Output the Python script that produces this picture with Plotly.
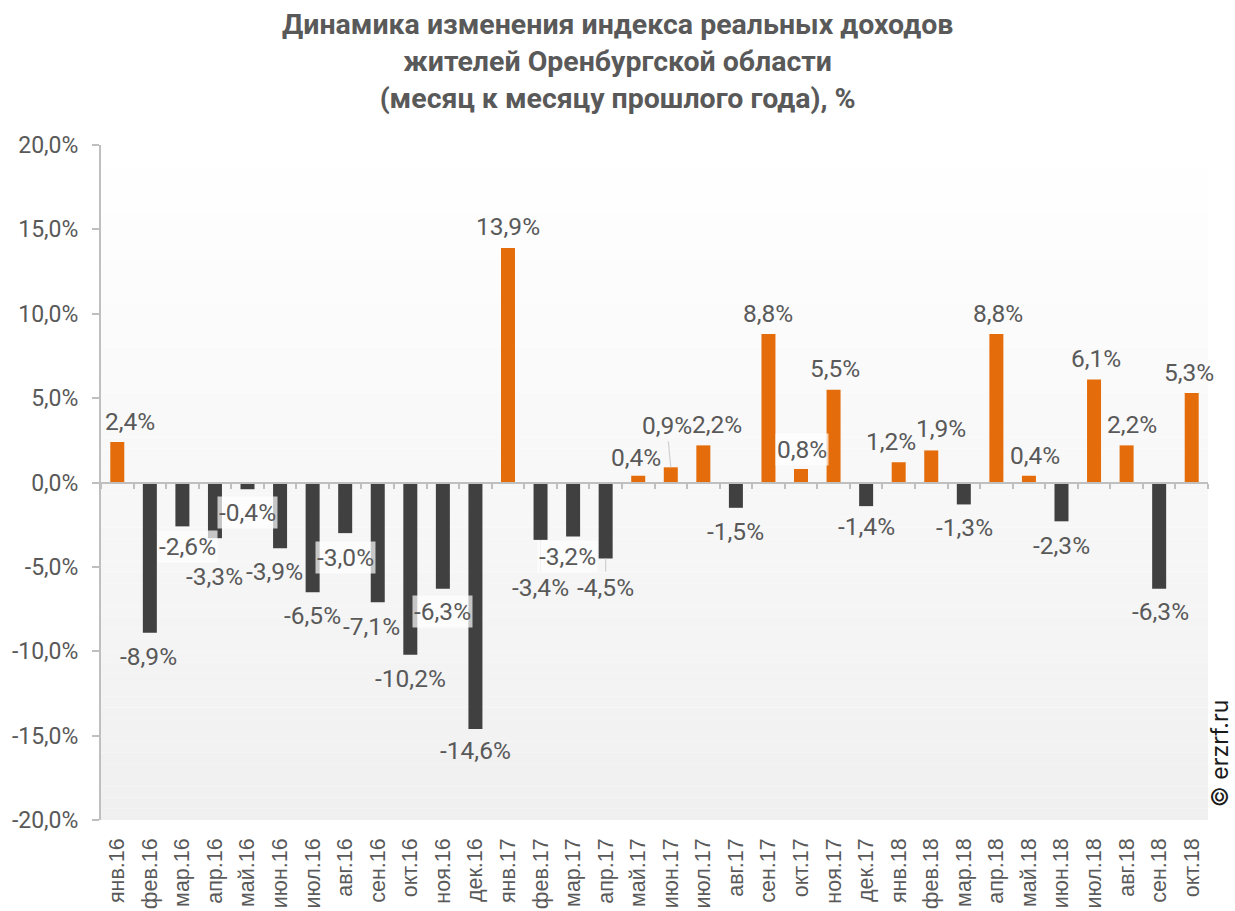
import plotly.graph_objects as go

# Months and year-on-year change of real incomes, %
months = ["янв.", "фев.", "мар.", "апр.", "май.", "июн.",
          "июл.", "авг.", "сен.", "окт.", "ноя.", "дек."]
categories = ([m + "16" for m in months] + [m + "17" for m in months]
              + [m + "18" for m in months[:10]])
values = [2.4, -8.9, -2.6, -3.3, -0.4, -3.9, -6.5, -3.0, -7.1, -10.2, -6.3, -14.6,
          13.9, -3.4, -3.2, -4.5, 0.4, 0.9, 2.2, -1.5, 8.8, 0.8, 5.5, -1.4,
          1.2, 1.9, -1.3, 8.8, 0.4, -2.3, 6.1, 2.2, -6.3, 5.3]
y_ticks = [-20, -15, -10, -5, 0, 5, 10, 15, 20]


def pct(v):
    return f"{v:.1f}".replace(".", ",") + "%"


# Label placement (pixel offsets from the bar end; dy positive = downward)
label_offsets = [(13, -21), (-1, 24), (5, 20), (0, 38), (0, 23), (-6, 23), (0, 23),
                 (0, 24), (-6, 24), (0, 24), (0, 23), (0, 22), (0, -21), (0, 48),
                 (-6, 20), (0, 29), (-2, -18), (-4, -42), (14, -21), (0, 24),
                 (0, -21), (1, -20), (1, -21), (0, 20), (-8, -21), (10, -22),
                 (1, 23), (2, -21), (6, -20), (0, 24), (2, -21), (5, -21), (1, 23),
                 (-3, -21)]
boxed_labels = {2, 4, 7, 10, 14, 21}
leader_labels = {13, 15, 17}

ORANGE = "#E46C0A"
DARK = "#404040"
TEXT = "#595959"
AXIS = "#BFBFBF"

colors = [ORANGE if v >= 0 else DARK for v in values]

fig = go.Figure()
fig.add_trace(go.Bar(
    x=categories, y=values, width=0.43,
    marker=dict(color=colors, line=dict(width=0)),
    hoverinfo="skip", showlegend=False,
))
# helper trace that carries the zero-line axis with boundary ticks
fig.add_trace(go.Scatter(
    x=list(range(len(values))), y=values, xaxis="x2", mode="markers",
    marker=dict(opacity=0), hoverinfo="skip", showlegend=False,
))

# vertical gradient of the plotting area
n_strips = 60
top_rgb, bottom_rgb = (255, 255, 255), (240, 240, 240)
shapes = []
for k in range(n_strips):
    t = (k + 0.5) / n_strips
    c = [round(bottom_rgb[j] + (top_rgb[j] - bottom_rgb[j]) * t) for j in range(3)]
    shapes.append(dict(type="rect", xref="paper", yref="paper",
                       x0=0, x1=1, y0=k / n_strips, y1=(k + 1) / n_strips,
                       fillcolor=f"rgb({c[0]},{c[1]},{c[2]})",
                       line=dict(width=0), layer="below"))

annotations = []
for i, (cat, v) in enumerate(zip(categories, values)):
    dx, dy = label_offsets[i]
    base = dict(x=cat, y=v, xref="x", yref="y", text=pct(v),
                font=dict(family="Roboto", size=24.5, color=TEXT))
    if i in leader_labels:
        base.update(showarrow=True, arrowhead=0, arrowwidth=1.2,
                    arrowcolor="#D0D0D0", ax=dx, ay=dy, standoff=0)
    else:
        base.update(showarrow=False, xanchor="center", yanchor="middle",
                    xshift=dx, yshift=-dy)
    if i in boxed_labels:
        base.update(bgcolor="rgba(255,255,255,0.7)", borderpad=1)
    annotations.append(base)

# chart title
annotations.append(dict(
    text="Динамика изменения индекса реальных доходов<br>"
         "жителей Оренбургской области<br>(месяц к месяцу прошлого года), %",
    xref="paper", yref="paper", x=0.4666, y=1.123,
    xanchor="center", yanchor="middle", showarrow=False,
    font=dict(family="Roboto", size=28.5, color=TEXT, weight="bold"),
))

# source mark
annotations.append(dict(
    text="© erzrf.ru", xref="paper", yref="paper", x=1.0108, y=0.099,
    xanchor="center", yanchor="middle", textangle=-90, showarrow=False,
    font=dict(family="Inter", size=23, color="#1a1a1a"),
))

fig.update_layout(
    width=1235, height=911,
    margin=dict(l=101, r=27, t=145, b=91),
    paper_bgcolor="white", plot_bgcolor="white",
    xaxis=dict(
        type="category", categoryorder="array", categoryarray=categories,
        range=[-0.5, len(values) - 0.5], automargin=False,
        showline=False, ticks="", showgrid=False, zeroline=False,
        tickangle=-90, ticklabelstandoff=13,
        tickfont=dict(family="Liberation Sans, Arial", size=21.5, color=TEXT),
    ),
    xaxis2=dict(
        overlaying="x", anchor="free", position=0.5, side="bottom",
        range=[-0.5, len(values) - 0.5], automargin=False,
        tickmode="array", tickvals=[k - 0.5 for k in range(len(values) + 1)],
        showticklabels=False, ticks="outside", ticklen=5, tickwidth=2,
        tickcolor=AXIS, showline=True, linecolor=AXIS, linewidth=2,
        showgrid=False, zeroline=False,
    ),
    yaxis=dict(
        range=[-20, 20], tickmode="array", tickvals=y_ticks,
        ticktext=[pct(t) for t in y_ticks], automargin=False,
        showline=True, linecolor=AXIS, linewidth=2,
        ticks="outside", ticklen=7, tickwidth=2, tickcolor=AXIS,
        showgrid=False, zeroline=False, ticklabelstandoff=9,
        tickfont=dict(family="Roboto", size=23, color=TEXT),
    ),
    shapes=shapes,
    annotations=annotations,
)

fig.write_html("out.html")
